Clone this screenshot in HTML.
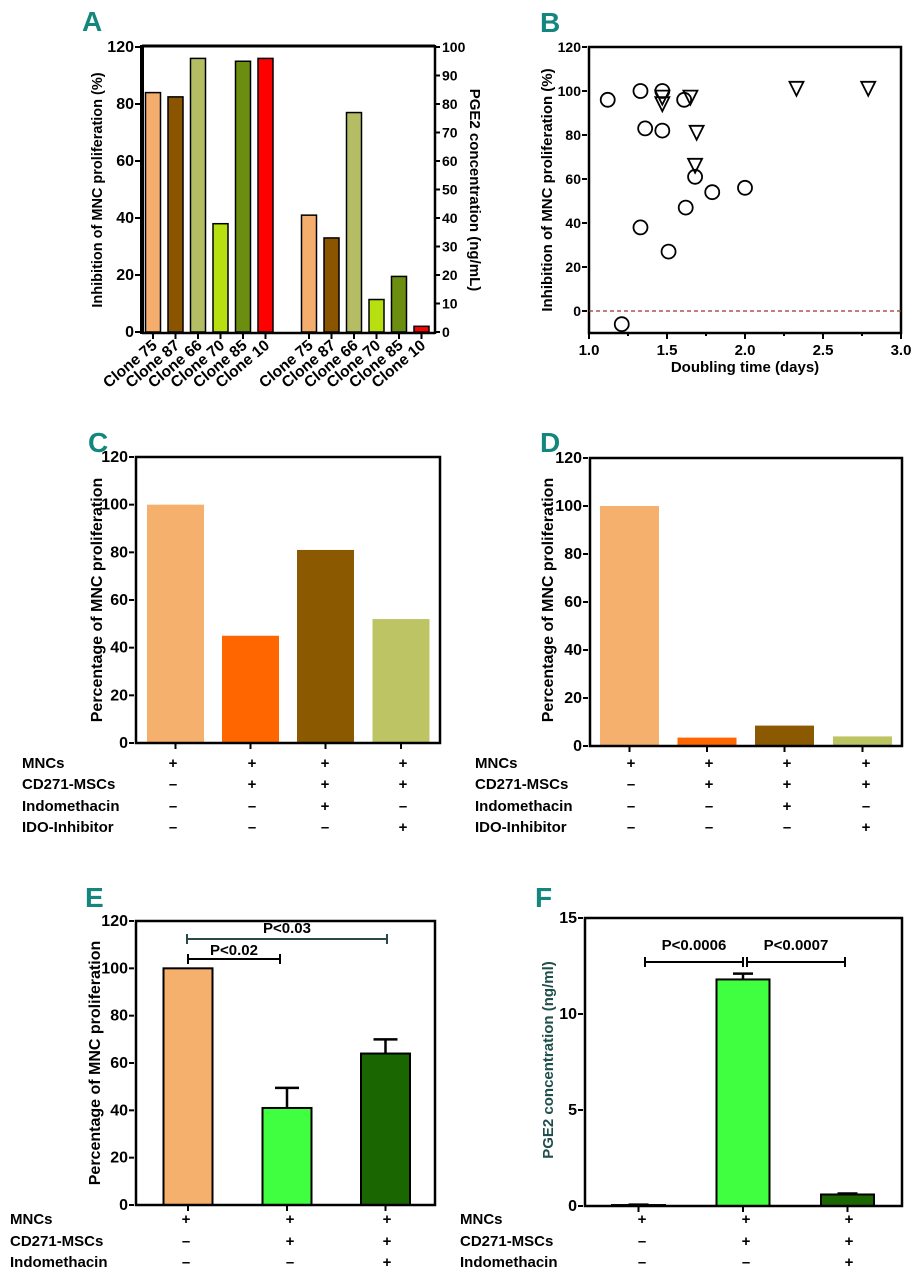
<!DOCTYPE html>
<html><head><meta charset="utf-8"><style>
html,body{margin:0;padding:0;background:#fff;}
svg{display:block;font-family:"Liberation Sans",Arial,sans-serif;font-weight:bold;}
</style></head><body>
<svg id="fig" width="920" height="1280" viewBox="0 0 920 1280" xmlns="http://www.w3.org/2000/svg"></svg>
<script>
// ---- Panel A data ----
const A_categories = ['Clone 75','Clone 87','Clone 66','Clone 70','Clone 85','Clone 10'];
const A_inhibition = [84, 82.5, 96, 38, 95, 96];
const A_pge2 = [41, 33, 77, 11.4, 19.5, 2];
const A_leftTickLabels = ['0','20','40','60','80','120'];
const A_leftTickValues = [0,20,40,60,80,100];
const A_rightTicks = [0,10,20,30,40,50,60,70,80,90,100];
// ---- Panel B data ----
const B_circleX = [1.12,1.33,1.47,1.36,1.47,1.61,1.68,1.79,2.0,1.62,1.33,1.51,1.21];
const B_circleY = [96,100,100,83,82,96,61,54,56,47,38,27,-6];
const B_triX = [1.47,1.47,1.65,1.69,1.68,2.33,2.79];
const B_triY = [97,94,97,81,66,101,101];
const B_yTicks = [0,20,40,60,80,100,120];
const B_xTicks = [1.0,1.5,2.0,2.5,3.0];
// ---- Panel C/D data ----
const C_values = [100,45,81,52];
const D_values = [100,3.5,8.5,4];
const CD_yTicks = [0,20,40,60,80,100,120];
const CD_rowLabels = ['MNCs','CD271-MSCs','Indomethacin','IDO-Inhibitor'];
const CD_signs = [['+','+','+','+'],['–','+','+','+'],['–','–','+','–'],['–','–','–','+']];
// ---- Panel E data ----
const E_values = [100,41,64];
const E_errors = [0,8.5,6];
const E_yTicks = [0,20,40,60,80,100,120];
// ---- Panel F data ----
const F_values = [0.05,11.8,0.6];
const F_errors = [0.02,0.3,0.05];
const F_yTicks = [0,5,10,15];
const EF_rowLabels = ['MNCs','CD271-MSCs','Indomethacin'];
const EF_signs = [['+','+','+'],['–','+','+'],['–','–','+']];

const svg = document.getElementById('fig');
const NS = 'http://www.w3.org/2000/svg';
function mk(tag, attrs){ const e=document.createElementNS(NS,tag); for(const k in attrs) e.setAttribute(k,attrs[k]); svg.appendChild(e); return e; }
function lin(d0,d1,r0,r1){ return v => r0 + (v-d0)*(r1-r0)/(d1-d0); }
function text(x,y,s,size,anchor,extra){ const e=mk('text',Object.assign({x:x,y:y,'font-size':size,'text-anchor':anchor||'start'},extra||{})); e.textContent=s; return e; }
function letter(x,y,s){ const e=text(x,y,s,28,'start',{fill:'#13877d','font-family':'"Liberation Sans Narrow","Liberation Sans",sans-serif'});

 }
function frame(x0,y0,x1,y1,name){ const r=mk('rect',{x:x0,y:y0,width:x1-x0,height:y1-y0,fill:'none',stroke:'#000','stroke-width':2.5});

 }
function yAxis(ticks,labels,sc,x,name,size){ ticks.forEach((t,i)=>{ const y=sc(t);
 const l=mk('line',{x1:x-5,x2:x,y1:y,y2:y,stroke:'#000','stroke-width':2});
 
 
 const tx=text(x-6,y+5,labels[i],size||15,'end');
 
  }); }
function yTitle(x,y,s,name,size,fill){ const e=text(x,y,s,size||14,'middle',{transform:'rotate(-90 '+x+' '+y+')',fill:fill||'#000'});
 
  }
function table(labels,signs,cx,lx,ys,name){ labels.forEach((lab,r)=>{ const t=text(lx,ys[r],lab,15,'start');
 
 
 signs[r].forEach((s,c)=>{ const st=text(cx[c],ys[r],s,15,'middle');
 
  }); }); }

// ===== Panel A =====
letter(82,31,'A');
const yA = lin(0,100,332,47);
const xA = i => 153 + i*22.5;
const xA2 = i => 309 + i*22.5;
const aColors = ['#f5ad6e','#8b5500','#b5bd64','#b8e010','#6b8e10','#ff0000'];
A_inhibition.forEach((v,i)=>{ const b=mk('rect',{x:xA(i)-7.5,y:yA(v),width:15,height:yA(0)-yA(v),fill:aColors[i],stroke:'#000','stroke-width':1.5});
 
  });
A_pge2.forEach((v,i)=>{ const b=mk('rect',{x:xA2(i)-7.5,y:yA(v),width:15,height:yA(0)-yA(v),fill:aColors[i],stroke:'#000','stroke-width':1.5});
 
  });
(function(){ const l1=mk('line',{x1:142,x2:435,y1:46,y2:46,stroke:'#000','stroke-width':3});
  
 const l2=mk('line',{x1:142,x2:435,y1:333,y2:333,stroke:'#000','stroke-width':2.5});
  
 const l3=mk('line',{x1:142,x2:142,y1:45,y2:334,stroke:'#000','stroke-width':4});
  
 const l4=mk('line',{x1:435,x2:435,y1:45,y2:334,stroke:'#000','stroke-width':2.5});
   })();
yAxis(A_leftTickValues,A_leftTickLabels,yA,140,'a-left',16);
A_rightTicks.forEach(t=>{ const y=yA(t);
 const l=mk('line',{x1:435,x2:440,y1:y,y2:y,stroke:'#000','stroke-width':2});
  
 const tx=text(442,y+5,String(t),14,'start');
   });
A_categories.forEach((c,i)=>{ [xA(i),xA2(i)].forEach(x=>{
 const l=mk('line',{x1:x,x2:x,y1:333,y2:339,stroke:'#000','stroke-width':2});
  
 const t=text(x+5,347,c,15.5,'end',{transform:'rotate(-40 '+(x+5)+' 347)'});
   }); });
yTitle(102,190,'Inhibition of MNC proliferation (%)','a-left',14.5);
(function(){ const e=text(470,190,'PGE2 concentration (ng/mL)',15,'middle',{transform:'rotate(90 470 190)'});
   })();

// ===== Panel B =====
letter(540,32,'B');
const xB = lin(1,3,589,901);
const yB = lin(-10,120,333,47);
frame(589,47,901,333,'b');
yAxis(B_yTicks,B_yTicks.map(String),yB,587,'b',14);
for(let v=1;v<=3.001;v+=0.25){ const x=xB(v); const major=Math.abs(v*2-Math.round(v*2))<1e-6;
 const l=mk('line',{x1:x,x2:x,y1:333,y2:major?339:336,stroke:'#000','stroke-width':2});
   }
B_xTicks.forEach(v=>{ const t=text(xB(v),355,v.toFixed(1),15,'middle');
   });
(function(){ const t=text(745,372,'Doubling time (days)',15,'middle');
  
 const d=mk('line',{x1:589,x2:901,y1:yB(0),y2:yB(0),stroke:'#a0302a','stroke-width':1.3,'stroke-dasharray':'4,3'});
   })();
yTitle(552,190,'Inhibition of MNC proliferation (%)','b',15);
B_circleX.forEach((v,i)=>{ const c=mk('circle',{cx:xB(v),cy:yB(B_circleY[i]),r:7,fill:'none',stroke:'#000','stroke-width':1.8});
   });
B_triX.forEach((v,i)=>{ const x=xB(v), y=yB(B_triY[i]);
 const p=mk('polygon',{points:(x-7)+','+(y-7)+' '+(x+7)+','+(y-7)+' '+x+','+(y+7),fill:'none',stroke:'#000','stroke-width':1.8});
   });

// ===== Panel C =====
const cdColors = ['#f5b06e','#ff6600','#8b5a00','#bdc464'];
letter(88,452,'C');
const yC = lin(0,120,743,457);
const xC = [175.5,250.5,325.5,401];
C_values.forEach((v,i)=>{ const b=mk('rect',{x:xC[i]-28.5,y:yC(v),width:57,height:yC(0)-yC(v),fill:cdColors[i]});
   });
frame(136,457,440,743,'c');
yAxis(CD_yTicks,CD_yTicks.map(String),yC,134,'c',16);
xC.forEach(x=>{ const l=mk('line',{x1:x,x2:x,y1:743,y2:749,stroke:'#000','stroke-width':2});
   });
yTitle(102,600,'Percentage of MNC proliferation','c',16);
table(CD_rowLabels,CD_signs,[173,252,325,403],22,[768,789,811,832],'c');

// ===== Panel D =====
letter(540,452,'D');
const yD = lin(0,120,746,458);
const xD = [629.5,707,784.5,862.5];
D_values.forEach((v,i)=>{ const b=mk('rect',{x:xD[i]-29.5,y:yD(v),width:59,height:yD(0)-yD(v),fill:cdColors[i]});
   });
frame(590,458,902,746,'d');
yAxis(CD_yTicks,CD_yTicks.map(String),yD,588,'d',16);
xD.forEach(x=>{ const l=mk('line',{x1:x,x2:x,y1:746,y2:752,stroke:'#000','stroke-width':2});
   });
yTitle(553,600,'Percentage of MNC proliferation','d',16);
table(CD_rowLabels,CD_signs,[631,709,787,866],475,[768,789,811,832],'d');

// ===== Panel E =====
letter(85,907,'E');
const yE = lin(0,120,1205,921);
const xE = [188,287,385.5];
const eColors = ['#f5b06e','#40ff40','#1a6600'];
E_values.forEach((v,i)=>{
 if(E_errors[i]>0){ const top=yE(v+E_errors[i]);
  const l=mk('line',{x1:xE[i],x2:xE[i],y1:yE(v),y2:top,stroke:'#000','stroke-width':2.5});
   
  const c=mk('line',{x1:xE[i]-12,x2:xE[i]+12,y1:top,y2:top,stroke:'#000','stroke-width':2.5});
    }
 const b=mk('rect',{x:xE[i]-24.5,y:yE(v),width:49,height:yE(0)-yE(v),fill:eColors[i],stroke:'#000','stroke-width':2});
   });
frame(136,921,435,1205,'e');
yAxis(E_yTicks,E_yTicks.map(String),yE,134,'e',16);
xE.forEach(x=>{ const l=mk('line',{x1:x,x2:x,y1:1205,y2:1211,stroke:'#000','stroke-width':2});
   });
yTitle(100,1063,'Percentage of MNC proliferation','e',16);
function bracket(x1,x2,y,label,ty,name,stroke){ const l=mk('path',{d:'M'+x1+' '+(y-5)+'V'+(y+5)+'M'+x1+' '+y+'H'+x2+'M'+x2+' '+(y-5)+'V'+(y+5),stroke:stroke||'#000','stroke-width':2,fill:'none'});
  
 const t=text((x1+x2)/2,ty,label,15,'middle');
   }
bracket(187,387,939,'P<0.03',933,'e-long','#2a4a48');
bracket(188,280,959,'P<0.02',955,'e-short');
table(EF_rowLabels,EF_signs,[186,290,387],10,[1224,1246,1267],'e');

// ===== Panel F =====
letter(535,907,'F');
const yF = lin(0,15,1206,918);
const xF = [638.5,743,847.5];
const fColors = ['#1a6600','#40ff40','#1a6600'];
F_values.forEach((v,i)=>{ const top=yF(v+F_errors[i]);
 const l=mk('line',{x1:xF[i],x2:xF[i],y1:yF(v),y2:top,stroke:'#000','stroke-width':2.5});
  
 const c=mk('line',{x1:xF[i]-10,x2:xF[i]+10,y1:top,y2:top,stroke:'#000','stroke-width':2.5});
  
 const b=mk('rect',{x:xF[i]-26.5,y:yF(v),width:53,height:yF(0)-yF(v),fill:fColors[i],stroke:'#000','stroke-width':2});
   });
frame(585,918,902,1206,'f');
yAxis(F_yTicks,F_yTicks.map(String),yF,583,'f',16);
xF.forEach(x=>{ const l=mk('line',{x1:x,x2:x,y1:1206,y2:1212,stroke:'#000','stroke-width':2});
   });
yTitle(553,1060,'PGE2 concentration (ng/ml)','f',15,'#1f4f4b');
bracket(645,743,962,'P<0.0006',950,'f-left');
bracket(747,845,962,'P<0.0007',950,'f-right');
table(EF_rowLabels,EF_signs,[642,746,849],460,[1224,1246,1267],'f');
</script>
</body></html>
